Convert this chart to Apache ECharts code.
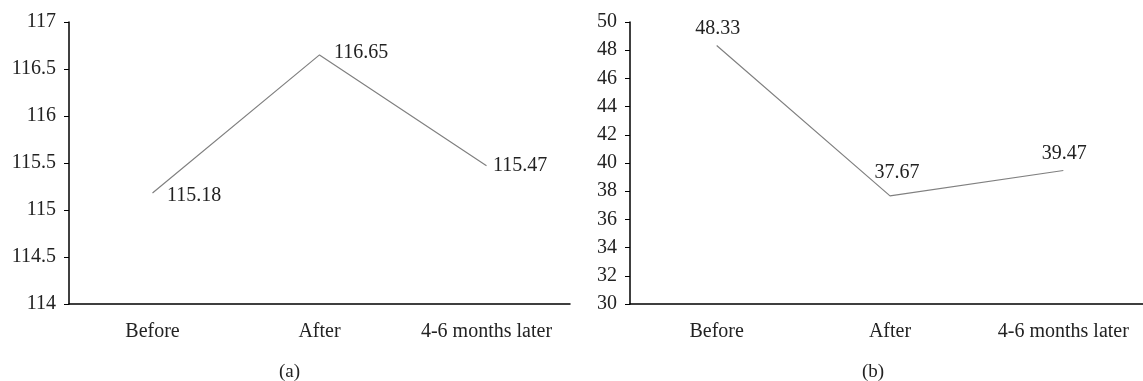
<!DOCTYPE html>
<html>
<head>
<meta charset="utf-8">
<script src="https://cdn.jsdelivr.net/npm/echarts@6/dist/echarts.min.js"></script>
<style>
html,body{margin:0;padding:0;background:#fff;}
#chart{width:1143px;height:381px;}
</style>
</head>
<body>
<div id="chart"></div>
<script>
const categories = ['Before', 'After', '4-6 months later'];
const valuesA = [115.18, 116.65, 115.47];
const valuesB = [48.33, 37.67, 39.47];
const axisA = { min: 114, max: 117, interval: 0.5 };
const axisB = { min: 30, max: 50, interval: 2 };
const panelLabels = ['(a)', '(b)'];

const FONT = 'Liberation Serif';
const FS = 20;
const chart = echarts.init(document.getElementById('chart'));

const labelsA = [
  { position: 'right', distance: 14, offset: [0, 3] },
  { position: 'right', distance: 14, offset: [0, -2] },
  { position: 'right', distance: 6, offset: [0, 0] }
];
const labelsB = [
  { position: 'top', distance: 6, offset: [1, 0] },
  { position: 'top', distance: 13, offset: [7, 0] },
  { position: 'top', distance: 6, offset: [1, 0] }
];

function xAxis(gi) {
  return {
    type: 'category', gridIndex: gi, data: categories, boundaryGap: true,
    axisLine: { lineStyle: { color: '#000', width: 1.5 } },
    axisTick: { alignWithLabel: true, length: 3, lineStyle: { color: '#000', width: 1 } },
    axisLabel: { color: '#222', fontFamily: FONT, fontSize: FS, margin: 18, interval: 0, hideOverlap: false },
    splitLine: { show: false }
  };
}
function yAxis(gi, a) {
  return {
    type: 'value', gridIndex: gi, min: a.min, max: a.max, interval: a.interval,
    axisLine: { show: true, lineStyle: { color: '#000', width: 1.5 } },
    axisTick: { show: true, length: 5, lineStyle: { color: '#000', width: 1 } },
    axisLabel: { color: '#222', fontFamily: FONT, fontSize: FS, margin: 13 },
    splitLine: { show: false }
  };
}
function series(gi, vals, labs) {
  return {
    type: 'line', xAxisIndex: gi, yAxisIndex: gi,
    data: vals.map((v, i) => ({
      value: v,
      label: { show: true, position: labs[i].position, distance: labs[i].distance, offset: labs[i].offset }
    })),
    symbol: 'circle', symbolSize: 1,
    itemStyle: { color: 'rgba(0,0,0,0)' },
    lineStyle: { color: '#808080', width: 1.2 },
    label: { color: '#222', fontFamily: FONT, fontSize: FS },
    animation: false, silent: true
  };
}

chart.setOption({
  backgroundColor: '#fff',
  animation: false,
  grid: [
    { left: 69, width: 501, top: 22, height: 282, containLabel: false, outerBoundsMode: 'none' },
    { left: 630, width: 520, top: 22, height: 282, containLabel: false, outerBoundsMode: 'none' }
  ],
  xAxis: [xAxis(0), xAxis(1)],
  yAxis: [yAxis(0, axisA), yAxis(1, axisB)],
  series: [series(0, valuesA, labelsA), series(1, valuesB, labelsB)],
  graphic: [
    { type: 'text', left: 279, top: 363, style: { text: panelLabels[0], font: (FS - 1) + 'px "' + FONT + '"', fill: '#222' } },
    { type: 'text', left: 862, top: 363, style: { text: panelLabels[1], font: (FS - 1) + 'px "' + FONT + '"', fill: '#222' } }
  ]
});
</script>
</body>
</html>
